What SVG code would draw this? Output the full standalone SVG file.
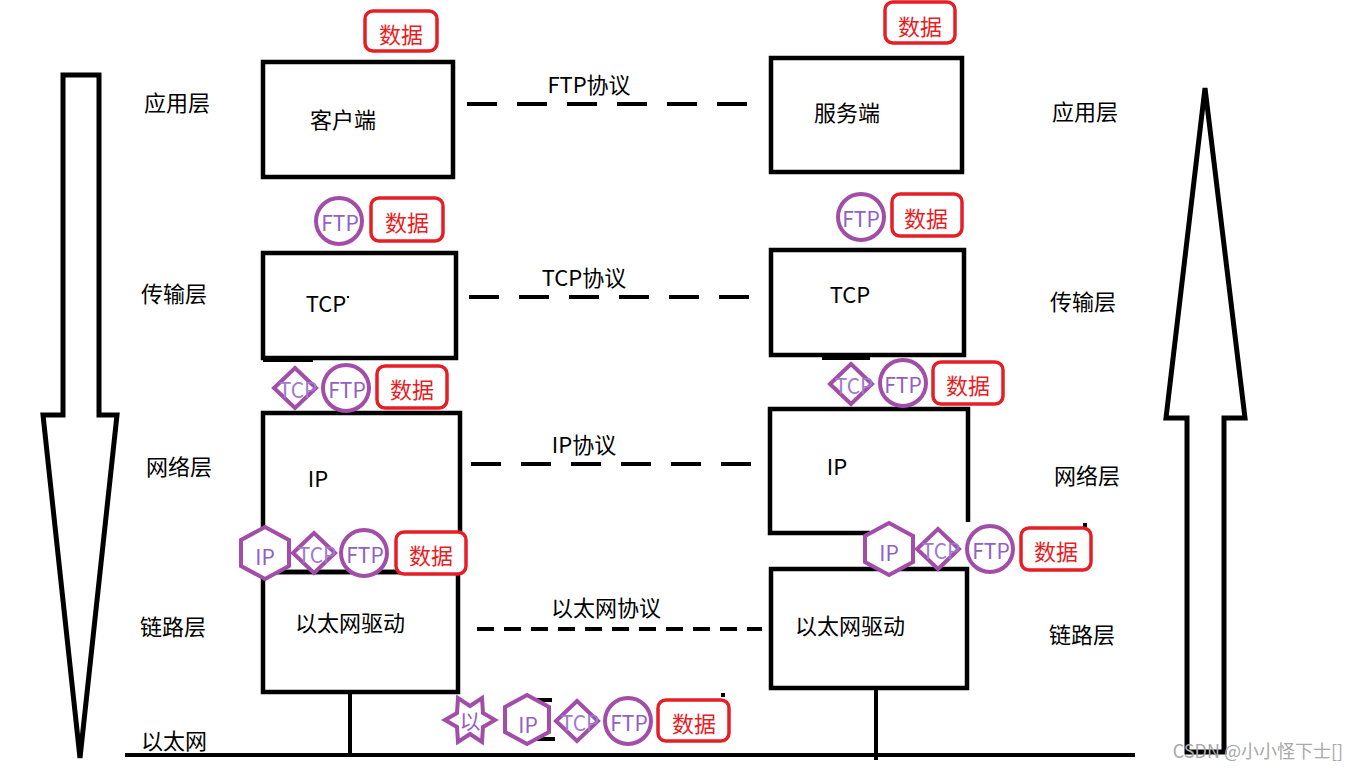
<svg xmlns="http://www.w3.org/2000/svg" width="1365" height="770" viewBox="0 0 1365 770">
<style>
text{font-family:"Noto Sans CJK SC","Noto Sans",sans-serif;dominant-baseline:central;text-anchor:middle}
.lbl{font-size:22px;fill:#000}
.box{fill:none;stroke:#000;stroke-width:4.5}
.arrow{fill:none;stroke:#000;stroke-width:5;stroke-linejoin:miter}
.dash{stroke:#000;stroke-width:4;stroke-dasharray:30 20}
.dash2{stroke:#000;stroke-width:4;stroke-dasharray:17 10}
.line{stroke:#000;stroke-width:4}
.data{fill:#fff;stroke:#e61e25;stroke-width:3.5}
.dt{font-size:22px;fill:#e61e25}
.p{fill:#fff;stroke:#a24ea8;stroke-width:4}
.pt{font-size:21px;fill:#9160c6}
.dm{font-size:21px;fill:#a07ad0}
.wm{font-size:18px;fill:#a8a8a8}
</style>

<g id="arrow-down"><path class="arrow" d="M63,75 L99,75 L99,415 L117,415 L80,758 L43,415 L63,415 Z"/></g>
<g id="arrow-up"><path class="arrow" d="M1205,88 L1245,418 L1224,418 L1224,752 L1187,752 L1187,418 L1166,418 Z"/></g>

<g id="layer-labels">
<text class="lbl" x="177" y="101">应用层</text>
<text class="lbl" x="174" y="292">传输层</text>
<text class="lbl" x="179" y="465">网络层</text>
<text class="lbl" x="173" y="625">链路层</text>
<text class="lbl" x="174" y="739">以太网</text>
<text class="lbl" x="1085" y="110">应用层</text>
<text class="lbl" x="1083" y="300">传输层</text>
<text class="lbl" x="1087" y="474">网络层</text>
<text class="lbl" x="1082" y="633">链路层</text>
</g>

<g id="connectors">
<line class="dash" x1="467" y1="104" x2="747" y2="104"/>
<line class="dash" x1="469" y1="297" x2="749" y2="297"/>
<line class="dash" x1="471" y1="464" x2="752" y2="464"/>
<line class="dash2" x1="477" y1="629" x2="762" y2="629"/>
<line class="line" x1="125" y1="755" x2="1135" y2="755"/>
<line class="line" x1="350" y1="692" x2="350" y2="755"/>
<line class="line" x1="876" y1="688" x2="876" y2="760"/>
<text class="lbl" x="589" y="83">FTP协议</text>
<text class="lbl" x="584" y="276">TCP协议</text>
<text class="lbl" x="584" y="443">IP协议</text>
<text class="lbl" x="606" y="606">以太网协议</text>
</g>

<g id="client"><rect class="box" x="263" y="62" width="190" height="115"/><text class="lbl" x="343" y="118">客户端</text></g>
<g id="server"><rect class="box" x="771" y="58" width="191" height="114"/><text class="lbl" x="847" y="111">服务端</text></g>
<g id="tcp-left"><rect class="box" x="263" y="253" width="193" height="105"/><line class="line" x1="263" y1="360" x2="313" y2="360"/><text class="lbl" x="326" y="302">TCP</text><rect x="347" y="296" width="2" height="2" fill="#000"/></g>
<g id="tcp-right"><rect class="box" x="771" y="250" width="193" height="105"/><line class="line" x1="822" y1="358" x2="870" y2="358"/><text class="lbl" x="850" y="293">TCP</text></g>
<g id="ip-left"><rect class="box" x="263" y="413" width="197" height="159"/><text class="lbl" x="318" y="477">IP</text></g>
<g id="ip-right"><path class="box" d="M968,522 L968,409 L770,409 L770,533 L870,533"/><line class="line" x1="1083" y1="525" x2="1087" y2="525"/><text class="lbl" x="837" y="465">IP</text></g>
<g id="eth-left"><rect class="box" x="263" y="572" width="195" height="120"/><text class="lbl" x="350" y="621">以太网驱动</text></g>
<g id="eth-right"><rect class="box" x="771" y="569" width="196" height="119"/><text class="lbl" x="850" y="624">以太网驱动</text></g>

<g id="data-app-left"><rect class="data" x="365" y="11" width="72" height="40" rx="8"/><text class="dt" x="401" y="33">数据</text></g>
<g id="data-app-right"><rect class="data" x="885" y="2" width="70" height="41" rx="8"/><text class="dt" x="920" y="25">数据</text></g>

<g id="pkt-trans-left">
<circle class="p" cx="339" cy="221" r="23"/><text class="pt" x="340" y="222">FTP</text>
<rect class="data" x="371" y="198" width="72" height="43" rx="8"/><text class="dt" x="407" y="221">数据</text>
</g>
<g id="pkt-trans-right">
<circle class="p" cx="861" cy="217" r="23"/><text class="pt" x="861" y="218">FTP</text>
<rect class="data" x="892" y="194" width="70" height="42" rx="8"/><text class="dt" x="926" y="217">数据</text>
</g>

<g id="pkt-net-left">
<polygon class="p" points="295,368 316,388 295,408 274,388"/><text class="dm" x="298" y="389">TCP</text>
<circle class="p" cx="346" cy="388" r="23"/><text class="pt" x="347" y="389">FTP</text>
<rect class="data" x="377" y="366" width="70" height="42" rx="8"/><text class="dt" x="412" y="388">数据</text>
</g>
<g id="pkt-net-right">
<polygon class="p" points="851,364 872,384 851,404 830,384"/><text class="dm" x="854" y="385">TCP</text>
<circle class="p" cx="903" cy="383" r="23"/><text class="pt" x="903" y="384">FTP</text>
<rect class="data" x="933" y="362" width="70" height="42" rx="8"/><text class="dt" x="968" y="384">数据</text>
</g>

<g id="pkt-link-left">
<polygon class="p" points="265,527 289,540 289,566 265,579 241,566 241,540"/><text class="pt" x="265" y="556">IP</text>
<polygon class="p" points="314,533 335,553 314,573 293,553"/><text class="dm" x="317" y="554">TCP</text>
<circle class="p" cx="364" cy="553" r="23"/><text class="pt" x="365" y="554">FTP</text>
<rect class="data" x="396" y="532" width="70" height="42" rx="8"/><text class="dt" x="431" y="554">数据</text>
</g>
<g id="pkt-link-right">
<polygon class="p" points="889,523 913,536 913,562 889,575 865,562 865,536"/><text class="pt" x="889" y="552">IP</text>
<polygon class="p" points="938,529 959,549 938,569 917,549"/><text class="dm" x="941" y="550">TCP</text>
<circle class="p" cx="990" cy="549" r="23"/><text class="pt" x="991" y="550">FTP</text>
<rect class="data" x="1021" y="528" width="70" height="42" rx="8"/><text class="dt" x="1056" y="550">数据</text>
</g>

<g id="pkt-wire">
<line class="line" x1="522" y1="700" x2="552" y2="700"/>
<line class="line" x1="525" y1="739" x2="555" y2="739"/>
<rect x="721" y="693" width="4" height="4" fill="#000"/>
<polygon class="p" points="495,720 483,727 482,742 470,734 458,742 457,727 445,720 457,713 458,698 470,706 482,698 483,713"/><text class="pt" x="470" y="720">以</text>
<polygon class="p" points="527,695 549,707 549,732 527,744 505,732 505,707"/><text class="pt" x="528" y="724">IP</text>
<polygon class="p" points="577,701 598,721 577,741 556,721"/><text class="dm" x="580" y="722">TCP</text>
<circle class="p" cx="628" cy="721" r="23"/><text class="pt" x="629" y="722">FTP</text>
<rect class="data" x="658" y="700" width="71" height="41" rx="8"/><text class="dt" x="694" y="722">数据</text>
</g>

<g id="watermark"><text class="wm" x="1258" y="750">CSDN @小小怪下士[]</text></g>
</svg>
